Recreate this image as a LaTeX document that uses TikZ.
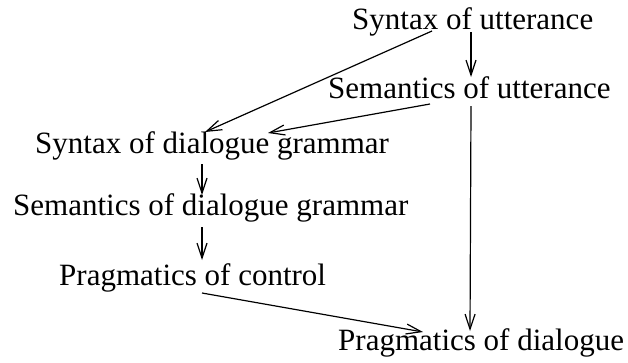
\documentclass[tikz,border=0pt]{standalone}
\usepackage{fontspec}
\setmainfont{Liberation Serif}
\usetikzlibrary{arrows.meta}
\begin{document}
\begin{tikzpicture}[x=1pt,y=-1pt,
  lbl/.style={inner sep=0pt,anchor=base west,font=\fontsize{31}{37}\selectfont},
  arr/.style={draw=black,line width=1.2pt,-{Straight Barb[length=15pt,width=10pt,line width=1.2pt]}}]
\useasboundingbox (0,0) rectangle (628,362);
\node[lbl] (su)    at (352,29)  {Syntax of utterance};
\node[lbl] (semu)  at (328,98)  {Semantics of utterance};
\node[lbl] (sdg)   at (35,153)  {Syntax of dialogue grammar};
\node[lbl] (semdg) at (13,215)  {Semantics of dialogue grammar};
\node[lbl] (pc)    at (59,285)  {Pragmatics of control};
\node[lbl] (pd)    at (338,350) {Pragmatics of dialogue};
\draw[arr] ([shift={(119,3)}]su.base west) -- ([shift={(143,-21)}]semu.base west);
\draw[arr] ([shift={(80,2)}]su.base west) -- ([shift={(170,-21)}]sdg.base west);
\draw[arr] ([shift={(102,6)}]semu.base west) -- ([shift={(233,-20)}]sdg.base west);
\draw[arr] ([shift={(143,8)}]semu.base west) -- ([shift={(132,-19)}]pd.base west);
\draw[arr] ([shift={(167,11)}]sdg.base west) -- ([shift={(189,-20)}]semdg.base west);
\draw[arr] ([shift={(189,12)}]semdg.base west) -- ([shift={(143,-25)}]pc.base west);
\draw[arr] ([shift={(143,8)}]pc.base west) -- ([shift={(85,-18)}]pd.base west);
\end{tikzpicture}
\end{document}
